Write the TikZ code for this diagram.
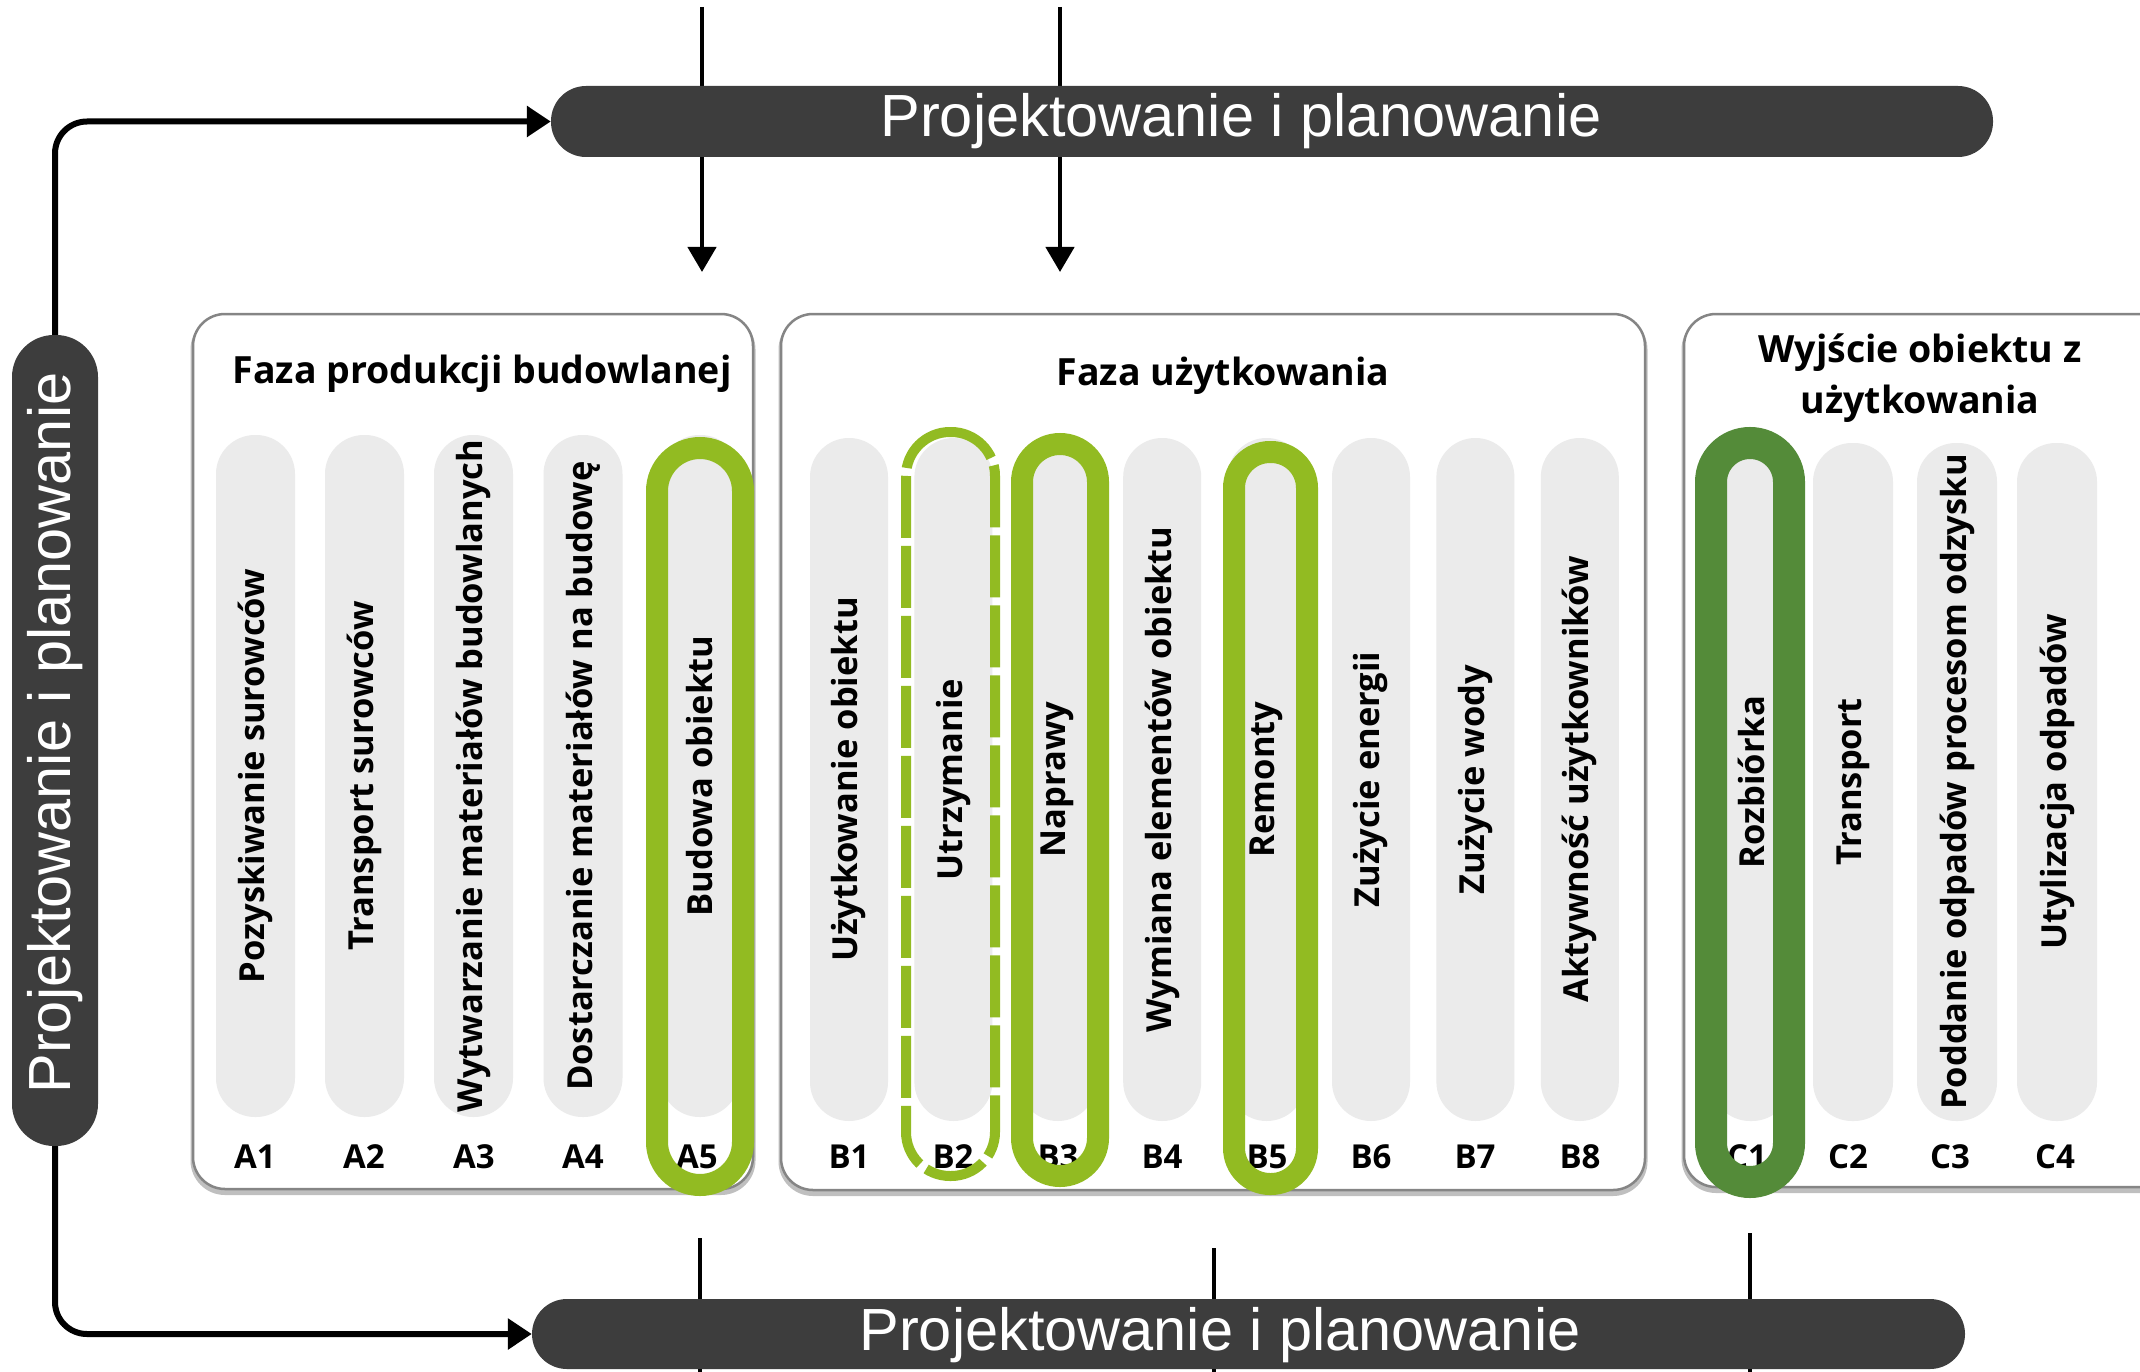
\documentclass[tikz,border=0pt]{standalone}
\usepackage{fontspec}
\setmainfont{Open Sans}
\newfontfamily\barfont{Liberation Sans}
\usetikzlibrary{arrows.meta}
\definecolor{barcol}{HTML}{3D3D3D}
\definecolor{pillcol}{HTML}{EBEBEB}
\definecolor{lgreen}{RGB}{146,187,34}
\definecolor{dgreen}{RGB}{84,139,57}
\definecolor{boxcol}{HTML}{858585}
\begin{document}
\begin{tikzpicture}[x=1pt,y=-1pt,
  darkbar/.style={fill=barcol, rounded corners=35pt, inner sep=0pt},
  bartext/.style={text=white, inner sep=0pt, font=\barfont\fontsize{59.5}{62}\selectfont},
  phase/.style={draw=boxcol, line width=2.5pt, rounded corners=32pt, fill=white,
    preaction={draw=black!25, line width=5pt, transform canvas={yshift=-3.5pt}}},
  title/.style={font=\bfseries\fontsize{37.5}{51}\selectfont, align=center, inner sep=0pt},
  pill/.style={fill=pillcol, rotate=90, inner sep=0pt, rounded corners=39pt,
    font=\bfseries\fontsize{34.5}{36}\selectfont},
  code/.style={font=\bfseries\fontsize{33}{34}\selectfont, inner sep=0pt},
  ring/.style={draw=lgreen, line width=22pt, rounded corners=38pt, inner sep=0pt},
  dring/.style={draw=lgreen, line width=10pt, dash pattern=on 62pt off 8pt, rounded corners=44pt, inner sep=0pt},
  cring/.style={draw=dgreen, line width=32pt, rounded corners=39pt, inner sep=0pt},
  looparrow/.style={line width=6pt, rounded corners=32pt, -{Triangle[length=24pt,width=30pt]}},
  varrow/.style={line width=4.5pt, -{Triangle[length=25pt,width=28pt]}},
  vline/.style={line width=3.5pt}
]
\useasboundingbox (0,0) rectangle (2140,1372);
\clip (0,0) rectangle (2140,1372);

% vertical connectors behind the bars
\coordinate (tA) at (702,7);   \coordinate (tAe) at (702,272);
\coordinate (tB) at (1060,7);  \coordinate (tBe) at (1060,272);
\coordinate (bA) at (700,1238);
\coordinate (bB) at (1214,1248);
\coordinate (bC) at (1750,1233);
\coordinate (bAe) at (700,1372);
\coordinate (bBe) at (1214,1372);
\coordinate (bCe) at (1750,1372);
\draw[varrow] (tA) -- (tAe);
\draw[varrow] (tB) -- (tBe);
\draw[vline] (bA) -- (bAe);
\draw[vline] (bB) -- (bBe);
\draw[vline] (bC) -- (bCe);

% bars
\node[darkbar, minimum width=1442pt, minimum height=71pt] (tb) at (1272,121.5) {};
\node[bartext] (tbt) at (1241,121.5) {Projektowanie i planowanie};
\node[darkbar, minimum width=1433pt, minimum height=70pt] (bb) at (1248.5,1334) {};
\node[bartext] (bbt) at (1220,1335) {Projektowanie i planowanie};
\node[darkbar, rotate=90, minimum width=811pt, minimum height=86pt, rounded corners=42pt] (lb) at (55,740.5) {};
\node[bartext, rotate=90] (lbt) at (55,733) {Projektowanie i planowanie};

\draw[looparrow] (lb.east) |- (tb.west);
\draw[looparrow] (lb.west) |- (bb.west);

% phase boxes
\node[phase, minimum width=560pt, minimum height=875pt] (boxA) at (473,751.5) {};
\node[phase, minimum width=864pt, minimum height=876pt] (boxB) at (1213,752) {};
\node[phase, minimum width=516pt, minimum height=873pt] (boxC) at (1942,750.5) {};

\node[title] (ttA) at (482,374) {Faza produkcji budowlanej};
\node[title] (ttB) at (1223,376) {Faza użytkowania};
\node[title] (ttC) at (1920,378) {Wyjście obiektu z\\użytkowania};

% A pills
\node[pill, minimum width=682pt, minimum height=79pt] (pA1) at (255.5,776) {Pozyskiwanie surowców};
\node[pill, minimum width=682pt, minimum height=79pt] (pA2) at (364.5,776) {Transport surowców};
\node[pill, minimum width=682pt, minimum height=79pt] (pA3) at (473.5,776) {Wytwarzanie materiałów budowlanych};
\node[pill, minimum width=682pt, minimum height=79pt] (pA4) at (583,776) {Dostarczanie materiałów na budowę};
\node[pill, minimum width=682pt, minimum height=79pt] (pA5) at (700,776) {Budowa obiektu};

% B pills
\node[pill, minimum width=683pt, minimum height=78pt] (pB1) at (849,779.5) {Użytkowanie obiektu};
\node[pill, minimum width=683pt, minimum height=78pt] (pB2) at (953.4,779.5) {Utrzymanie};
\node[pill, minimum width=683pt, minimum height=78pt] (pB3) at (1057.8,779.5) {Naprawy};
\node[pill, minimum width=683pt, minimum height=78pt] (pB4) at (1162.2,779.5) {Wymiana elementów obiektu};
\node[pill, minimum width=683pt, minimum height=78pt] (pB5) at (1266.6,779.5) {Remonty};
\node[pill, minimum width=683pt, minimum height=78pt] (pB6) at (1371,779.5) {Zużycie energii};
\node[pill, minimum width=683pt, minimum height=78pt] (pB7) at (1475.4,779.5) {Zużycie wody};
\node[pill, minimum width=683pt, minimum height=78pt] (pB8) at (1579.8,779.5) {Aktywność użytkowników};

% C pills
\node[pill, minimum width=678pt, minimum height=80pt] (pC1) at (1751,782) {Rozbiórka};
\node[pill, minimum width=678pt, minimum height=80pt] (pC2) at (1853,782) {Transport};
\node[pill, minimum width=678pt, minimum height=80pt] (pC3) at (1957,782) {Poddanie odpadów procesom odzysku};
\node[pill, minimum width=678pt, minimum height=80pt] (pC4) at (2057,782) {Utylizacja odpadów};

% codes
\node[code] (cA1) at (255,1157) {A1};
\node[code] (cA2) at (364,1157) {A2};
\node[code] (cA3) at (474,1157) {A3};
\node[code] (cA4) at (583,1157) {A4};
\node[code] (cA5) at (697,1157) {A5};
\node[code] (cB1) at (849,1157) {B1};
\node[code] (cB2) at (953,1157) {B2};
\node[code] (cB3) at (1058,1157) {B3};
\node[code] (cB4) at (1162,1157) {B4};
\node[code] (cB5) at (1267,1157) {B5};
\node[code] (cB6) at (1371,1157) {B6};
\node[code] (cB7) at (1475,1157) {B7};
\node[code] (cB8) at (1580,1157) {B8};
\node[code] (cC1) at (1747,1157) {C1};
\node[code] (cC2) at (1848,1157) {C2};
\node[code] (cC3) at (1950,1157) {C3};
\node[code] (cC4) at (2055,1157) {C4};

% highlight rings
\node[ring, minimum width=86pt, minimum height=737pt, rounded corners=43pt] (rA5) at (700,816.5) {};
\node[dring, minimum width=89pt, minimum height=744pt] (rB2) at (950.5,804) {};
\node[ring, minimum width=76pt, minimum height=732pt] (rB3) at (1060,810) {};
\node[ring, minimum width=73pt, minimum height=732pt, rounded corners=36pt] (rB5) at (1270.5,818) {};
\node[cring, minimum width=78pt, minimum height=739pt] (rC1) at (1750,812.5) {};
\end{tikzpicture}
\end{document}
